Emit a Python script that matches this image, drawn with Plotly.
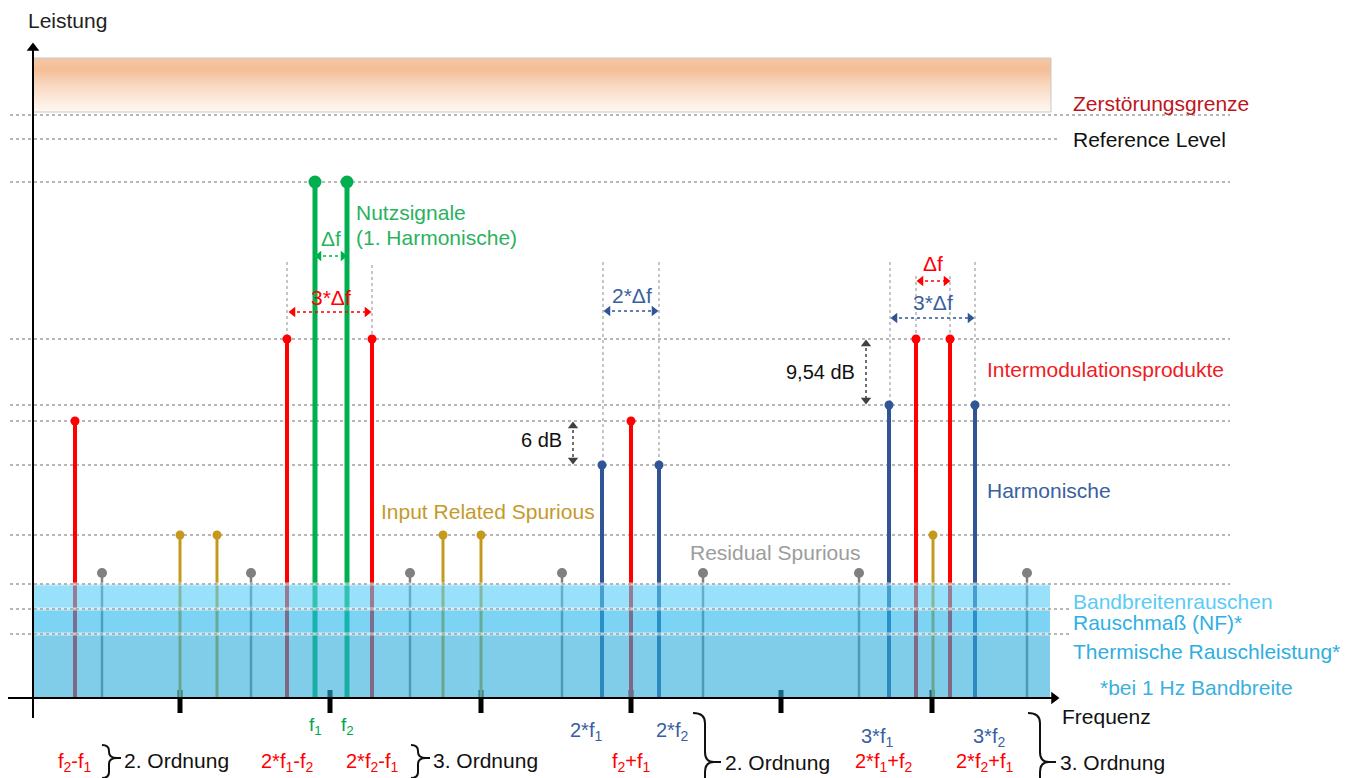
import plotly.graph_objects as go

# ---------------- data (frequency / level in diagram units) ----------------
BASE = 698  # pixel row of the frequency axis; level = BASE - row

def L(row):
    return BASE - row

# Intermodulation products (red)
im_freq = [75, 287, 372, 631, 916, 950]
im_level = [277, 359, 359, 277, 359, 359]
# Useful signals f1, f2 (green)
sig_freq = [315, 347]
sig_level = [516, 516]
# Harmonics (blue)
harm_freq = [602, 659, 889, 975]
harm_level = [233, 233, 293, 293]
# Input related spurious (gold)
irs_freq = [180, 217, 443, 481, 933]
irs_level = [163, 163, 163, 163, 163]
# Residual spurious (gray)
res_freq = [102, 251, 410, 562, 703, 859, 1027]
res_level = [125, 125, 125, 125, 125, 125, 125]

# Noise floors (top levels)
band_noise_level = 114
nf_level = 89
thermal_level = 64
# Destruction limit box (bottom, top)
destroy_bottom, destroy_top = 586, 640
# Reference level
ref_level = 559

# Dotted reference lines: (level, x_start, x_end)
grid_lines = [
    (583, 10, 1230), (559, 10, 1058), (516, 10, 1230), (359, 10, 1230),
    (293, 10, 1230), (277, 10, 1230), (233, 10, 1230), (163, 10, 1230),
    (114, 10, 1230), (89, 10, 1072), (64, 10, 1072),
]

tick_positions = [180, 330, 481, 631, 781, 932]

# ---------------- styles ----------------
RED = "#FF0000"
GREEN = "#00B050"
BLUE = "#2F5597"
GOLD = "#C59A1C"
GRAY = "#808080"
FONT = "Liberation Sans"
PAGE_MARGIN = 8  # default body margin of the html page

fig = go.Figure()

# destruction limit box with vertical gradient
fig.add_trace(go.Scatter(
    x=[33, 1051, 1051, 33, 33],
    y=[destroy_bottom, destroy_bottom, destroy_top, destroy_top, destroy_bottom],
    mode="lines", fill="toself",
    line=dict(color="#C8C8C8", width=1),
    fillgradient=dict(type="vertical",
                      colorscale=[[0, "#FFF8F3"], [0.5, "#F9D8C0"], [0.78, "#F4BE97"], [1, "#F6C7A5"]],
                      start=destroy_bottom, stop=destroy_top),
    hoverinfo="skip"))


def stems(freqs, levels, color, width, msize):
    xs, ys = [], []
    for f, lv in zip(freqs, levels):
        xs += [f, f, None]
        ys += [0, lv, None]
    fig.add_trace(go.Scatter(x=xs, y=ys, mode="lines",
                             line=dict(color=color, width=width), hoverinfo="skip"))
    fig.add_trace(go.Scatter(x=freqs, y=levels, mode="markers",
                             marker=dict(color=color, size=msize), hoverinfo="skip"))

# tick marks on the frequency axis (under the noise bands)
tx, ty = [], []
for t in tick_positions:
    tx += [t, t, None]
    ty += [L(690), L(713), None]
fig.add_trace(go.Scatter(x=tx, y=ty, mode="lines", line=dict(color="black", width=5), hoverinfo="skip"))

stems(res_freq, res_level, GRAY, 2.5, 10)
stems(irs_freq, irs_level, GOLD, 3, 9)
stems(harm_freq, harm_level, BLUE, 4, 9)
stems(im_freq, im_level, RED, 4, 9)
stems(sig_freq, sig_level, GREEN, 5, 13)

shapes = []
# dotted reference lines above the noise (below the stems)
for lv, xa, xb in grid_lines:
    if lv > band_noise_level:
        shapes.append(dict(type="line", xref="x", yref="y", x0=xa, x1=xb, y0=lv, y1=lv,
                           line=dict(color="#A0A0A0", width=1.5, dash="dot"), layer="below"))

# vertical dotted helper lines (spacing markers)
vlines = [(287, 262, 339), (372, 265, 339), (603, 262, 465), (659, 262, 465),
          (890, 262, 405), (975, 262, 405), (916, 276, 339), (950, 276, 339)]
for x, r0, r1 in vlines:
    shapes.append(dict(type="line", xref="x", yref="y", x0=x, x1=x, y0=L(r0), y1=L(r1),
                       line=dict(color="#A0A0A0", width=1.2, dash="dot"), layer="below"))

# noise bands (semi transparent, above stems)
shapes.append(dict(type="rect", xref="x", yref="y", x0=33, x1=1050, y0=0, y1=thermal_level,
                   fillcolor="rgb(43,172,220)", opacity=0.6, line=dict(width=0), layer="above"))
shapes.append(dict(type="rect", xref="x", yref="y", x0=33, x1=1050, y0=thermal_level, y1=nf_level,
                   fillcolor="rgb(38,182,235)", opacity=0.6, line=dict(width=0), layer="above"))
shapes.append(dict(type="rect", xref="x", yref="y", x0=33, x1=1050, y0=nf_level, y1=band_noise_level,
                   fillcolor="rgb(85,205,247)", opacity=0.6, line=dict(width=0), layer="above"))

# dotted lines at the noise levels (on top of the bands)
for lv, xa, xb in grid_lines:
    if lv <= band_noise_level:
        shapes.append(dict(type="line", xref="x", yref="y", x0=33, x1=1050, y0=lv, y1=lv,
                           line=dict(color="white", width=3), opacity=0.6, layer="above"))
        shapes.append(dict(type="line", xref="x", yref="y", x0=xa, x1=xb, y0=lv, y1=lv,
                           line=dict(color="#A0A0A0", width=1.5, dash="dot"), layer="above"))

# axes
shapes.append(dict(type="line", xref="x", yref="y", x0=5, x1=1052, y0=0, y1=0,
                   line=dict(color="black", width=2), layer="above"))
shapes.append(dict(type="line", xref="x", yref="y", x0=33, x1=33, y0=L(718), y1=L(48),
                   line=dict(color="black", width=2), layer="above"))

# dotted double arrows: (x0, row0, x1, row1, color)
darrows = [
    (317, 256, 345, 256, GREEN),
    (291, 312, 369, 312, RED),
    (606, 311, 656, 311, BLUE),
    (919, 281, 948, 281, RED),
    (893, 318, 972, 318, BLUE),
    (573, 424, 573, 462, "#404040"),
    (866, 342, 866, 402, "#404040"),
]
for x0, r0, x1, r1, c in darrows:
    shapes.append(dict(type="line", xref="x", yref="y", x0=x0, x1=x1, y0=L(r0), y1=L(r1),
                       line=dict(color=c, width=1.5, dash="dot"), layer="above"))
    if r0 == r1:
        fig.add_trace(go.Scatter(x=[x0 + 2, x1 - 2], y=[L(r0), L(r1)], mode="markers",
                                 marker=dict(symbol=["triangle-left", "triangle-right"], color=c, size=9),
                                 hoverinfo="skip"))
    else:
        fig.add_trace(go.Scatter(x=[x0, x1], y=[L(r0) - 2, L(r1) + 2], mode="markers",
                                 marker=dict(symbol=["triangle-up", "triangle-down"], color=c, size=9),
                                 hoverinfo="skip"))

# axis arrowheads
fig.add_trace(go.Scatter(x=[33], y=[L(48)], mode="markers",
                         marker=dict(symbol="triangle-up", color="black", size=11), hoverinfo="skip"))
fig.add_trace(go.Scatter(x=[1054], y=[0], mode="markers",
                         marker=dict(symbol="triangle-right", color="black", size=11), hoverinfo="skip"))


# curly braces: curl x, vertical stroke x, point x, tick end x, rows
def brace(xc, xv, xp, xe, top, mid, bottom, r):
    p = (f"M {xc},{L(top)} Q {xv},{L(top)} {xv},{L(top + r)} L {xv},{L(mid - r)} "
         f"Q {xv},{L(mid)} {xp},{L(mid)} Q {xv},{L(mid)} {xv},{L(mid + r)} "
         f"L {xv},{L(bottom - r)} Q {xv},{L(bottom)} {xc},{L(bottom)} "
         f"M {xp},{L(mid)} L {xe},{L(mid)}")
    return dict(type="path", xref="x", yref="y", path=p, line=dict(color="#111111", width=2),
                layer="above")

shapes.append(brace(102, 109, 117, 121, 745, 758, 778, 6))
shapes.append(brace(411, 418, 426, 430, 745, 758, 778, 6))
shapes.append(brace(693, 705, 714, 721, 713, 762, 812, 10))
shapes.append(brace(1028, 1040, 1049, 1056, 713, 762, 812, 10))

fig.update_layout(shapes=shapes)

# ---------------- texts ----------------
ann = []

def T(text, x, row, color="black", size=21, anchor="left"):
    ann.append(dict(text=text, x=x, y=L(row), xref="x", yref="y", showarrow=False,
                    xanchor=anchor, yanchor="middle",
                    font=dict(family=FONT, size=size, color=color)))

T("Leistung", 26, 20, "#222222", 21)
T("Zerstörungsgrenze", 1071, 103, "#C0141C")
T("Reference Level", 1071, 139, "#111111")
T("Nutzsignale", 354, 212, "#2BB25E")
T("(1. Harmonische)", 354, 237, "#2BB25E")
T("Δf", 331, 238, "#2BB25E", 21, "center")
T("3*Δf", 331, 297, RED, 21, "center")
T("2*Δf", 632, 295, "#3A5FA0", 21, "center")
T("Δf", 933, 263, RED, 21, "center")
T("3*Δf", 933, 302, "#3A5FA0", 21, "center")
T("6 dB", 564, 440, "#111111", 20, "right")
T("9,54 dB", 857, 372, "#111111", 20, "right")
T("Intermodulationsprodukte", 985, 369, "#EE1C24")
T("Harmonische", 985, 490, "#3A5FA0")
T("Input Related Spurious", 379, 511, "#C49A2A")
T("Residual Spurious", 688, 552, "#9C9C9C")
T("Bandbreitenrauschen", 1071, 601, "#5BCBF5")
T("Rauschmaß (NF)*", 1071, 622, "#2FB0E4")
T("Thermische Rauschleistung*", 1071, 651, "#2FAEE0")
T("*bei 1 Hz Bandbreite", 1098, 687, "#3AB0E0")
T("Frequenz", 1060, 716, "#111111")

T("f<sub>1</sub>", sig_freq[0], 726, "#00A650", 19, "center")
T("f<sub>2</sub>", sig_freq[1], 726, "#00A650", 19, "center")
T("2*f<sub>1</sub>", 586, 731, "#3A5FA0", 20, "center")
T("2*f<sub>2</sub>", 672, 731, "#3A5FA0", 20, "center")
T("3*f<sub>1</sub>", 877, 737, "#3A5FA0", 20, "center")
T("3*f<sub>2</sub>", 989, 737, "#3A5FA0", 20, "center")

T("f<sub>2</sub>-f<sub>1</sub>", im_freq[0], 762, RED, 20, "center")
T("2. Ordnung", 122, 760, "#111111")
T("2*f<sub>1</sub>-f<sub>2</sub>", im_freq[1], 762, RED, 20, "center")
T("2*f<sub>2</sub>-f<sub>1</sub>", im_freq[2], 762, RED, 20, "center")
T("3. Ordnung", 431, 760, "#111111")
T("f<sub>2</sub>+f<sub>1</sub>", im_freq[3], 762, RED, 20, "center")
T("2. Ordnung", 723, 762, "#111111")
T("2*f<sub>1</sub>+f<sub>2</sub>", 884, 762, RED, 20, "center")
T("2*f<sub>2</sub>+f<sub>1</sub>", 985, 762, RED, 20, "center")
T("3. Ordnung", 1058, 762, "#111111")

fig.update_layout(
    annotations=ann,
    font=dict(family=FONT, size=21, color="#111111"),
    width=1359 - PAGE_MARGIN, height=778 - PAGE_MARGIN,
    margin=dict(l=0, r=0, t=0, b=0),
    paper_bgcolor="white", plot_bgcolor="white",
    showlegend=False,
    xaxis=dict(range=[PAGE_MARGIN, 1359], visible=False, fixedrange=True),
    yaxis=dict(range=[L(778), L(PAGE_MARGIN)], visible=False, fixedrange=True),
)

fig.write_html("out.html")
